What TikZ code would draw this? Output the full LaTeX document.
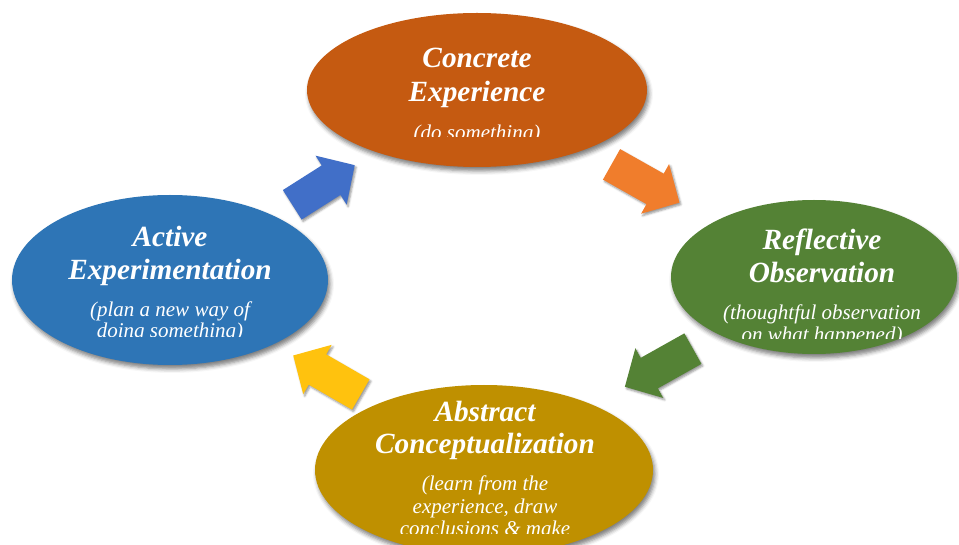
\documentclass[tikz,border=0pt]{standalone}
\usepackage{fontspec}
\setmainfont{Liberation Serif}
\usetikzlibrary{shapes.geometric,calc,shadows.blur}

\definecolor{ceorange}{HTML}{C55A11}
\definecolor{rogreen}{HTML}{548235}
\definecolor{acgold}{HTML}{BF9000}
\definecolor{aeblue}{HTML}{2E75B6}
\definecolor{arrowblue}{HTML}{416FC8}
\definecolor{arroworange}{HTML}{F07D2C}
\definecolor{arrowgreen}{HTML}{548235}
\definecolor{arrowyellow}{HTML}{FFC20E}

\begin{document}
\begin{tikzpicture}[x=1pt,y=1pt,
    stage/.style={ellipse,inner sep=0pt,
      blur shadow={shadow xshift=2pt,shadow yshift=-4pt,shadow blur radius=4pt,shadow opacity=50}},
    heading/.style={anchor=base,text=white,font=\fontsize{29.3}{33}\selectfont\bfseries\itshape},
    note/.style={anchor=base,text=white,font=\fontsize{21}{21}\selectfont\itshape},
    cyclearrow/.style={line join=miter,
      blur shadow={shadow xshift=1.5pt,shadow yshift=-2pt,shadow blur radius=2pt}}]
	\useasboundingbox (0,0) rectangle (959,544);
	% the four stages
	\node[stage,fill=ceorange,minimum width=340pt,minimum height=154pt] (ce) at (477,454) {};
	\node[stage,fill=rogreen,minimum width=286pt,minimum height=154pt] (ro) at (814,267) {};
	\node[stage,fill=acgold,minimum width=338pt,minimum height=170pt] (ac) at (484,74) {};
	\node[stage,fill=aeblue,minimum width=316pt,minimum height=170pt] (ae) at (170,264) {};
	% texts, cut off at the bottom of their boxes
	\begin{scope}
		\clip ($(ce)+(-170,-47)$) rectangle ($(ce)+(170,77)$);
		\node[heading] (ce1) at ($(ce)+(0,22)$) {Concrete};
		\node[heading] (ce2) at ($(ce)+(0,-12)$) {Experience};
		\node[note] (ce3) at ($(ce)+(0,-50)$) {(do something)};
	\end{scope}
	\begin{scope}
		\clip ($(ro)+(-143,-62)$) rectangle ($(ro)+(143,77)$);
		\node[heading] (ro1) at ($(ro)+(8,27)$) {Reflective};
		\node[heading] (ro2) at ($(ro)+(8,-6)$) {Observation};
		\node[note] (ro3) at ($(ro)+(8,-43)$) {(thoughtful observation};
		\node[note] (ro4) at ($(ro)+(8,-65)$) {on what happened)};
	\end{scope}
	\begin{scope}
		\clip ($(ac)+(-169,-63)$) rectangle ($(ac)+(169,85)$);
		\node[heading] (ac1) at ($(ac)+(1,48)$) {Abstract};
		\node[heading] (ac2) at ($(ac)+(1,17)$) {Conceptualization};
		\node[note] (ac3) at ($(ac)+(1,-21)$) {(learn from the};
		\node[note] (ac4) at ($(ac)+(1,-43)$) {experience, draw};
		\node[note] (ac5) at ($(ac)+(1,-65)$) {conclusions \& make};
	\end{scope}
	\begin{scope}
		\clip ($(ae)+(-158,-57)$) rectangle ($(ae)+(158,85)$);
		\node[heading] (ae1) at ($(ae)+(0,33)$) {Active};
		\node[heading] (ae2) at ($(ae)+(0,0)$) {Experimentation};
		\node[note] (ae3) at ($(ae)+(0,-37)$) {(plan a new way of};
		\node[note] (ae4) at ($(ae)+(0,-58)$) {doing something)};
	\end{scope}
	% block arrows between the stages
	\begin{scope}[shift={($(ce)!0.5!(ro)$)},rotate=-29.4]
		\fill[cyclearrow,fill=arroworange] (-39,-17.5) -- (11,-17.5) -- (11,-28.5) -- (39,0) -- (11,28.5) -- (11,17.5) -- (-39,17.5) -- cycle;
	\end{scope}
	\begin{scope}[shift={($(ro)!0.47!(ac)$)},rotate=209.3]
		\fill[cyclearrow,fill=arrowgreen] (-39,-17.5) -- (11,-17.5) -- (11,-28.5) -- (39,0) -- (11,28.5) -- (11,17.5) -- (-39,17.5) -- cycle;
	\end{scope}
	\begin{scope}[shift={($(ac)!0.5!(ae)$)},rotate=150]
		\fill[cyclearrow,fill=arrowyellow] (-39,-17.5) -- (11,-17.5) -- (11,-28.5) -- (39,0) -- (11,28.5) -- (11,17.5) -- (-39,17.5) -- cycle;
	\end{scope}
	\begin{scope}[shift={($(ae)!0.5!(ce)$)},rotate=32.4]
		\fill[cyclearrow,fill=arrowblue] (-37,-17.5) -- (9,-17.5) -- (9,-29) -- (37,0) -- (9,29) -- (9,17.5) -- (-37,17.5) -- cycle;
	\end{scope}
\end{tikzpicture}
\end{document}
